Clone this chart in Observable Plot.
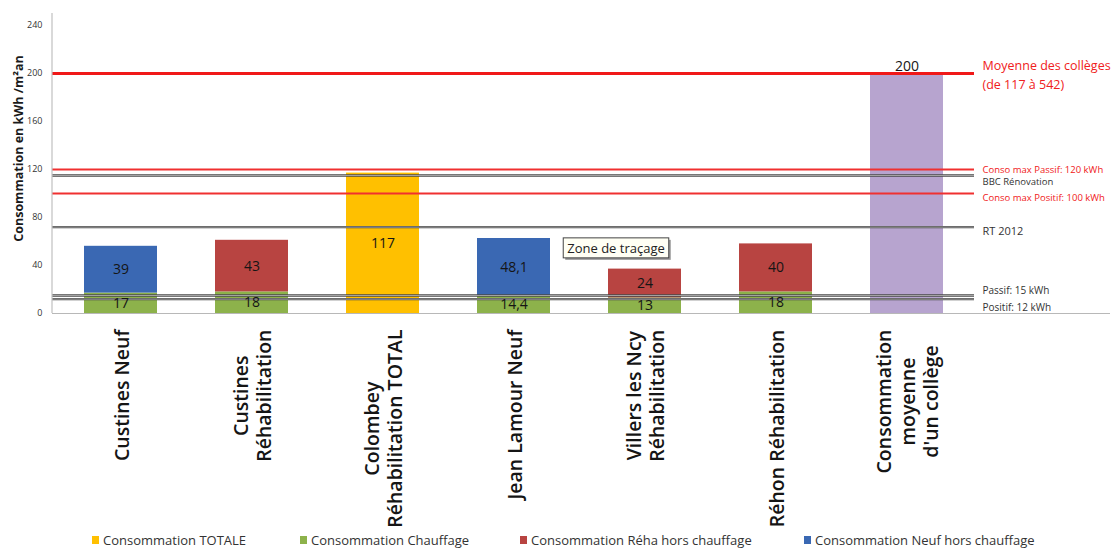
<!DOCTYPE html>
<html><head><meta charset="utf-8">
<script src="https://cdn.jsdelivr.net/npm/d3@7"></script>
<script src="https://cdn.jsdelivr.net/npm/@observablehq/plot@0.6"></script>
<style>
body{margin:0;background:#fff;font-family:"Open Sans",sans-serif;width:1117px;height:550px;overflow:hidden;}
#legend{display:flex;height:20px;line-height:20px;padding-left:92px;font-size:13px;color:#333;}
#legend .item{display:flex;align-items:center;white-space:nowrap;}
#legend .sw{width:7px;height:8px;margin-right:4px;display:inline-block;}
</style></head><body><div id="chart"></div><div id="legend"></div>
<script>
const categories = ["Custines Neuf", "Custines\nRéhabilitation", "Colombey\nRéhabilitation TOTAL", "Jean Lamour Neuf", "Villers les Ncy\nRéhabilitation", "Réhon Réhabilitation", "Consommation\nmoyenne\nd'un collège"];
const seriesNames = ["Consommation TOTALE", "Consommation Chauffage", "Consommation Réha hors chauffage", "Consommation Neuf hors chauffage", "Consommation moyenne"];
const seriesColors = ["#ffc000", "#8db24b", "#b84441", "#3a68b3", "#b7a4cf"];
const legendSeries = ["Consommation TOTALE", "Consommation Chauffage", "Consommation Réha hors chauffage", "Consommation Neuf hors chauffage"];
// values per category (null = absent)
const chauffage = [17, 18, null, 14.4, 13, 18, null];
const totale    = [null, null, 117, null, null, null, null];
const rehaHors  = [null, 43, null, null, 24, 40, null];
const neufHors  = [39, null, null, 48.1, null, null, null];
const moyenne   = [null, null, null, null, null, null, 200];
const refLabels = ["Moyenne des collèges\n(de 117 à 542)", "Conso max Passif: 120 kWh", "BBC Rénovation", "Conso max Positif: 100 kWh", "RT 2012", "Passif: 15 kWh", "Positif: 12 kWh"];
const refValues = [200, 120, 115, 100, 72, 15, 12];
const refKinds  = ["red", "red", "gray", "red", "gray", "gray", "gray"];
const yTicks = [0, 40, 80, 120, 160, 200, 240];
const yTitle = "Consommation en kWh /m²an";
const tooltipText = "Zone de traçage";

// build table (stack order: chauffage first)
const stackSeries = [[chauffage, 1], [totale, 0], [rehaHors, 2], [neufHors, 3], [moyenne, 4]];
const segments = [];
categories.forEach((c, i) => {
  for (const [arr, s] of stackSeries) {
    if (arr[i] != null) segments.push({category: c, series: seriesNames[s], value: arr[i]});
  }
});
const refs = refLabels.map((l, i) => ({label: l, value: refValues[i], kind: refKinds[i]}));
const fmt = v => String(v).replace(".", ",");

// label styles (code, not data)
const refStyle = {
  "Moyenne des collèges\n(de 117 à 542)": {dy: 0, size: 12.5},
  "Conso max Passif: 120 kWh": {dy: -1, size: 9.5},
  "BBC Rénovation": {dy: 5, size: 9.5},
  "Conso max Positif: 100 kWh": {dy: 3, size: 9.5},
  "RT 2012": {dy: 3, size: 11},
  "Passif: 15 kWh": {dy: -6, size: 10},
  "Positif: 12 kWh": {dy: 7, size: 10}
};

const chart = Plot.plot({
  width: 1117, height: 530,
  marginLeft: 52, marginRight: 143, marginTop: 13, marginBottom: 217,
  style: {fontFamily: "'Open Sans', sans-serif", background: "#fff", overflow: "visible"},
  x: {domain: categories, paddingInner: 0.445, paddingOuter: 0.2225},
  y: {domain: [0, 250]},
  color: {domain: seriesNames, range: seriesColors},
  marks: [
    Plot.barY(segments, {x: "category", y: "value", fill: "series"}),
    Plot.ruleY([0], {stroke: "#b8b8b8", strokeWidth: 1.2, insetRight: -136}),
    Plot.ruleY(refs.filter(r => r.kind === "gray"), {y: "value", stroke: "#4a4a4a", strokeWidth: 2.4}),
    Plot.ruleY(refs.filter(r => r.kind === "gray"), {y: "value", stroke: "#c9c9c9", strokeWidth: 0.7}),
    Plot.ruleY(refs.filter(r => r.kind === "red" && r.value !== 200), {y: "value", stroke: "#f03030", strokeWidth: 2}),
    Plot.ruleY(refs.filter(r => r.value === 200), {y: "value", stroke: "#f01818", strokeWidth: 3}),
    Plot.text(segments.filter(d => d.series !== "Consommation moyenne"), Plot.stackY({x: "category", y: "value", text: d => fmt(d.value), fill: "#151515", fontSize: 14, fontWeight: 500})),
    Plot.text(segments.filter(d => d.series === "Consommation moyenne"), {x: "category", y: "value", text: d => fmt(d.value), lineAnchor: "bottom", dy: -3, fill: "#151515", fontSize: 14, fontWeight: 500}),
    ...refs.map(r => Plot.text([r], {y: "value", text: "label", frameAnchor: "right", textAnchor: "start", dx: 8, dy: refStyle[r.label].dy, fontSize: refStyle[r.label].size, lineHeight: 1.5, fill: r.kind === "red" ? "#f02020" : "#333"})),
    Plot.axisY({ticks: yTicks, tickSize: 0, tickPadding: 10, fontSize: 9, fill: "#333", label: null}),
    Plot.axisX({tickSize: 0, tickPadding: 16, tickRotate: -90, textAnchor: "end", fontSize: 19.5, fontWeight: 600, lineHeight: 1.2, fill: "#151515", label: null}),
    Plot.text([yTitle], {text: d => d, frameAnchor: "left", textAnchor: "middle", rotate: -90, dx: -34, dy: -15, fontSize: 12.5, fontWeight: "bold", fill: "#1a1a1a"}),
    Plot.text([tooltipText], {text: d => d, x: () => categories[4], y: () => 54, dx: -29, fontSize: 13, fill: "#222"})
  ]
});
document.getElementById("chart").appendChild(chart);

// left axis line
const svg = d3.select(chart);
const xr = chart.scale("x").range, yr = chart.scale("y").range;
svg.append("line").attr("x1", xr[0]).attr("x2", xr[0]).attr("y1", yr[1]).attr("y2", yr[0]).attr("stroke", "#c0c0c0").attr("stroke-width", 1.2);

// center multi-line x tick labels
chart.querySelectorAll('[aria-label="x-axis tick label"] text').forEach(t => {
  const spans = t.querySelectorAll("tspan");
  if (!spans.length) return;
  const w = Math.max(...Array.from(spans, s => s.getComputedTextLength()));
  t.setAttribute("text-anchor", "middle");
  spans.forEach(s => s.setAttribute("x", -w / 2));
});

// tooltip box
Array.from(chart.querySelectorAll("text")).filter(t => t.textContent === tooltipText).forEach(t => {
  const b = t.getBBox();
  const g = t.parentNode;
  const tr = t.getAttribute("transform");
  const mk = (off, fill, stroke) => {
    const r = document.createElementNS("http://www.w3.org/2000/svg", "rect");
    r.setAttribute("x", b.x - 4 + off); r.setAttribute("y", b.y - 1 + off);
    r.setAttribute("width", b.width + 8); r.setAttribute("height", b.height + 2);
    r.setAttribute("fill", fill);
    if (stroke) { r.setAttribute("stroke", stroke); r.setAttribute("stroke-width", 1); }
    if (tr) r.setAttribute("transform", tr);
    g.insertBefore(r, t);
  };
  mk(2, "#9a9a9a", null);
  mk(0, "#fffff4", "#444");
});

// legend
const legend = document.getElementById("legend");
const itemWidths = [208, 220, 284, 260];
legendSeries.forEach((s, i) => {
  const it = document.createElement("div");
  it.className = "item"; it.style.width = itemWidths[i] + "px";
  const sw = document.createElement("span"); sw.className = "sw";
  sw.style.background = seriesColors[seriesNames.indexOf(s)];
  it.appendChild(sw); it.appendChild(document.createTextNode(s));
  legend.appendChild(it);
});
</script></body></html>
